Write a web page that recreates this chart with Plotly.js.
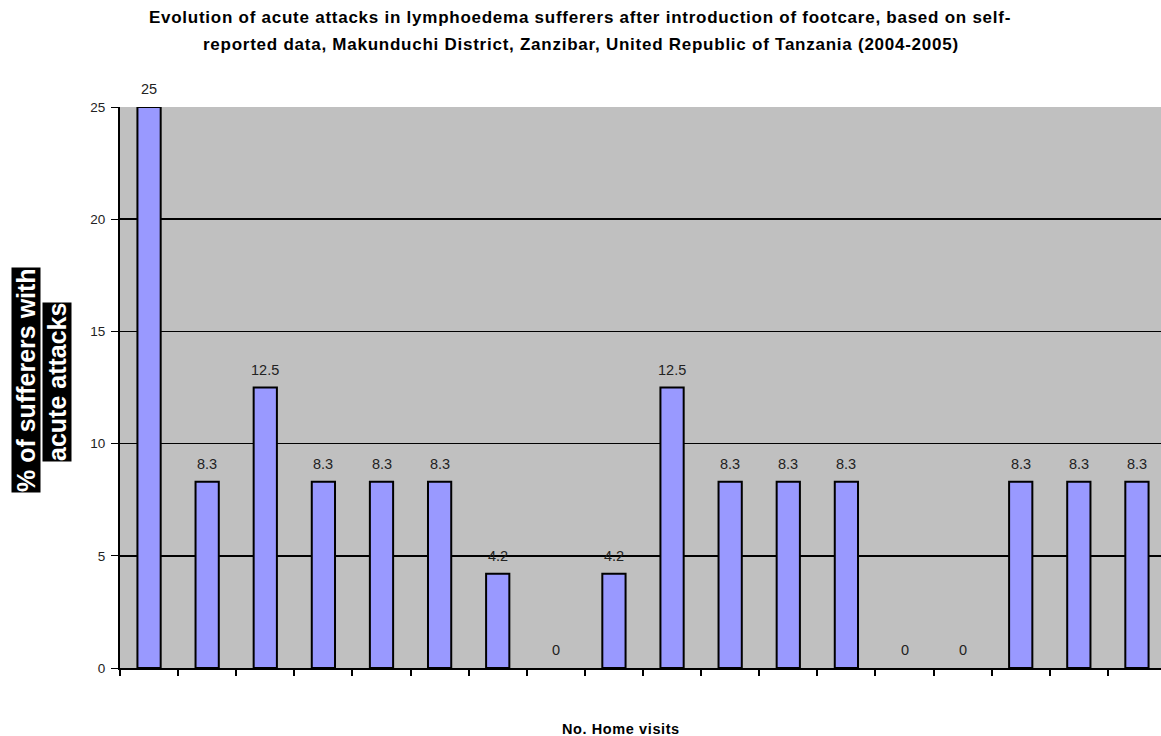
<!DOCTYPE html>
<html>
<head>
<meta charset="utf-8">
<script src="https://cdn.plot.ly/plotly-3.0.1.min.js"></script>
<style>
html,body{margin:0;padding:0;overflow:hidden;background:#fff;}
#chart{width:1166px;height:736px;}
</style>
</head>
<body>
<div id="chart"></div>
<script>
// Data
const visits = [1, 2, 3, 4, 5, 6, 7, 8, 9, 10, 11, 12, 13, 14, 15, 16, 17, 18];
const pctAttacks = [25, 8.3, 12.5, 8.3, 8.3, 8.3, 4.2, 0, 4.2, 12.5, 8.3, 8.3, 8.3, 0, 0, 8.3, 8.3, 8.3];
const valueLabels = ['25','8.3','12.5','8.3','8.3','8.3','4.2','0','4.2','12.5','8.3','8.3','8.3','0','0','8.3','8.3','8.3'];
const yTicks = [0, 5, 10, 15, 20, 25];

const titleLine1 = 'Evolution of acute attacks in lymphoedema sufferers after introduction of footcare, based on self-';
const titleLine2 = 'reported data, Makunduchi District, Zanzibar, United Republic of Tanzania (2004-2005)';
const xTitle = 'No. Home visits';
const yTitleLine1 = '% of sufferers with';
const yTitleLine2 = 'acute attacks';

const W = 1166, H = 736;
const mL = 120, mR = 0, mT = 107, mB = 68;
const pw = W - mL - mR, ph = H - mT - mB;
const px = x => (x - mL) / pw;          // page px -> paper x
const py = y => (H - mB - y) / ph;      // page px -> paper y
const FONT = 'Liberation Sans, Arial, sans-serif';
const spaced = (t, s) => '<span style="letter-spacing:' + s + 'px"><b>' + t + '</b></span>';

const trace = {
  type: 'bar',
  x: visits,
  y: pctAttacks,
  width: 0.4,
  marker: {color: '#9999ff', line: {color: '#000000', width: pctAttacks.map(v => v === 0 ? 0 : 2)}},
  hoverinfo: 'x+y'
};

const annotations = visits.map((v, i) => ({
  x: v, y: pctAttacks[i], xref: 'x', yref: 'y',
  text: valueLabels[i], showarrow: false,
  yanchor: 'bottom', yshift: 8,
  font: {family: FONT, size: 14.5, color: '#222'}
}));

annotations.push(
  {xref: 'paper', yref: 'paper', x: px(581), y: py(44), xanchor: 'center', yanchor: 'middle',
   text: spaced(titleLine2, 0.75), showarrow: false,
   font: {family: FONT, size: 17, color: '#000'}},
  {xref: 'paper', yref: 'paper', x: px(621), y: py(729), xanchor: 'center', yanchor: 'middle',
   text: spaced(xTitle, 0.6), showarrow: false,
   font: {family: FONT, size: 14.5, color: '#000'}},
  {xref: 'paper', yref: 'paper', x: px(26), y: py(380), xanchor: 'center', yanchor: 'middle',
   text: '<b>' + yTitleLine1 + '</b>', showarrow: false, textangle: -90,
   bgcolor: '#000', borderpad: 0,
   font: {family: FONT, size: 25, color: '#fff'}},
  {xref: 'paper', yref: 'paper', x: px(57), y: py(382), xanchor: 'center', yanchor: 'middle',
   text: '<b>' + yTitleLine2 + '</b>', showarrow: false, textangle: -90,
   bgcolor: '#000', borderpad: 0,
   font: {family: FONT, size: 25, color: '#fff'}}
);

const xTickVals = visits.map(v => v - 0.5).concat([visits[visits.length - 1] + 0.5]);

const layout = {
  width: W, height: H,
  margin: {l: mL, r: mR, t: mT, b: mB, pad: 0},
  paper_bgcolor: '#ffffff',
  plot_bgcolor: '#c0c0c0',
  showlegend: false,
  title: {
    text: spaced(titleLine1, 0.75),
    x: px(580), xref: 'paper', xanchor: 'center',
    y: 1 - 17 / H, yref: 'container', yanchor: 'middle',
    font: {family: FONT, size: 17, color: '#000'}
  },
  xaxis: {
    range: [0.5, 18.5],
    tickvals: xTickVals,
    showticklabels: false,
    ticks: 'outside', ticklen: 6, tickcolor: '#000', tickwidth: 2,
    showline: true, linecolor: '#000', linewidth: 2,
    showgrid: false, zeroline: false,
    fixedrange: true
  },
  yaxis: {
    range: [0, 25],
    tickvals: yTicks,
    ticks: 'outside', ticklen: 7, tickcolor: '#000', tickwidth: 1,
    ticklabelstandoff: 3,
    showline: true, linecolor: '#000', linewidth: 2,
    showgrid: true, gridcolor: '#000', gridwidth: 1.5,
    zeroline: false,
    tickfont: {family: FONT, size: 13.5, color: '#222'},
    fixedrange: true
  },
  annotations: annotations
};

Plotly.newPlot('chart', [trace], layout, {displayModeBar: false, staticPlot: true});
</script>
</body>
</html>
